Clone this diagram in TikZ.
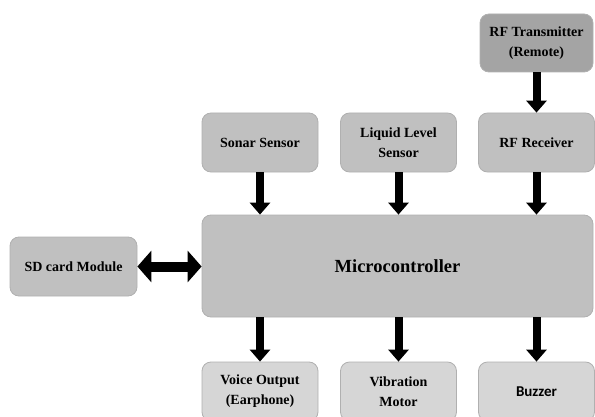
\documentclass[tikz,border=0pt]{standalone}
\usepackage{fontspec}
\setmainfont{Liberation Serif}
\newfontfamily\buzzfont{Carlito}
\usepackage{xcolor}
\usetikzlibrary{positioning, arrows.meta, calc}
\definecolor{boxgray}{RGB}{192, 192, 192}
\definecolor{boxgrayD}{RGB}{164, 164, 164}
\definecolor{boxgrayL}{RGB}{214, 214, 214}
\definecolor{edgegray}{RGB}{176, 176, 176}
\tikzset{
  blk/.style={rounded corners=9pt, draw=edgegray, fill=#1, thick,
              align=center, font=\bfseries\fontsize{14}{20}\selectfont,
              minimum width=116pt, minimum height=59pt, inner sep=2pt},
  arr/.style={-{Triangle[width=20pt, length=12pt]}, line width=8pt, black},
  dblarr/.style={{Triangle[width=31pt, length=14pt]}-{Triangle[width=31pt, length=14pt]},
                 line width=10pt, black},
}
\begin{document}
\begin{tikzpicture}[x=1pt, y=1pt]
  \useasboundingbox (0,0) rectangle (595,416);
  \def\ca{260} \def\cb{398.5} \def\cc{536.5}

  % inputs
  \node[blk=boxgrayD, minimum width=113pt, minimum height=58pt] (tx)
    at (\cc, 373) {RF Transmitter\\(Remote)};
  \node[blk=boxgray] (sonar) at (\ca, 273.5) {Sonar Sensor};
  \node[blk=boxgray] (level) at (\cb, 273.5) {Liquid Level\\Sensor};
  \node[blk=boxgray] (rx) at (\cc, 273.5) {RF Receiver};

  % controller
  \node[blk=boxgray, minimum width=391pt, minimum height=102pt,
        font=\bfseries\fontsize{18.5}{22}\selectfont] (mcu)
    at (397.5, 150) {Microcontroller};
  \node[blk=boxgray, minimum width=127pt] (sd) at (73.5, 149.5) {SD card Module};

  % outputs
  \node[blk=boxgrayL] (voice) at (\ca, 24.5) {Voice Output\\(Earphone)};
  \node[blk=boxgrayL] (motor) at (\cb, 24.5) {Vibration\\Motor};
  \node[blk=boxgrayL, font=\buzzfont\bfseries\fontsize{15}{20}\selectfont] (buzzer)
    at (\cc, 24.5) {Buzzer};

  \draw[arr] (tx.south) -- (rx.north);
  \draw[arr] (sonar.south) -- (sonar.south |- mcu.north);
  \draw[arr] (level.south) -- (level.south |- mcu.north);
  \draw[arr] (rx.south) -- (rx.south |- mcu.north);
  \draw[arr] (mcu.south -| voice.north) -- (voice.north);
  \draw[arr] (mcu.south -| motor.north) -- (motor.north);
  \draw[arr] (mcu.south -| buzzer.north) -- (buzzer.north);
  \draw[dblarr] (sd.east) -- (sd.east -| mcu.west);
\end{tikzpicture}
\end{document}
